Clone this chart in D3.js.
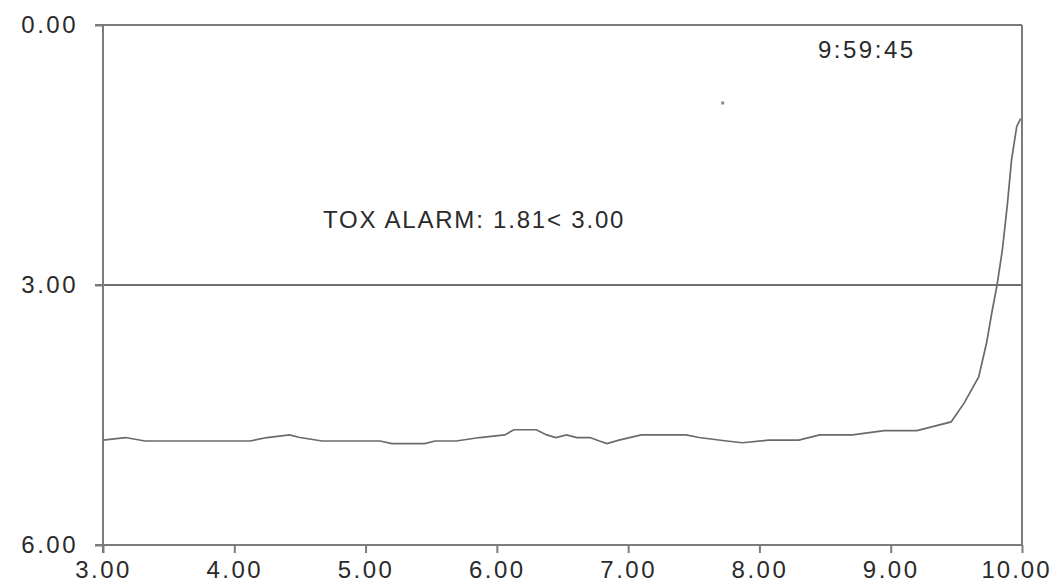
<!DOCTYPE html>
<html><head><meta charset="utf-8">
<script src="https://cdn.jsdelivr.net/npm/d3@7"></script>
<style>body{margin:0;background:#fff}svg{display:block}text{font-family:"Liberation Sans",Arial,sans-serif;fill:#2a2a2a;letter-spacing:2.5px}</style>
</head><body><svg width="1062" height="586"></svg>
<script>
const xTicks = [3, 4, 5, 6, 7, 8, 9, 10];
const yTicks = [0, 3, 6];
const threshold = 3.0;
const timeLabel = "9:59:45";
const alarmLabel = "TOX ALARM: 1.81< 3.00";
const xs = [3.00,3.17,3.32,4.12,4.25,4.42,4.50,4.67,5.11,5.20,5.45,5.53,5.69,5.87,6.06,6.13,6.30,6.38,6.45,6.53,6.61,6.71,6.78,6.84,6.93,7.10,7.44,7.54,7.75,7.87,8.07,8.30,8.46,8.71,8.95,9.20,9.46,9.56,9.67,9.73,9.77,9.81,9.85,9.89,9.92,9.96,9.99];
const ys = [4.79,4.76,4.80,4.80,4.76,4.73,4.76,4.80,4.80,4.83,4.83,4.80,4.80,4.76,4.73,4.67,4.67,4.73,4.76,4.73,4.76,4.76,4.80,4.83,4.79,4.73,4.73,4.76,4.80,4.82,4.79,4.79,4.73,4.73,4.68,4.68,4.58,4.36,4.06,3.67,3.32,3.00,2.60,2.05,1.56,1.17,1.08];
const strayX = [7.72], strayY = [0.90];

const svg = d3.select("svg");
const x = d3.scaleLinear().domain([3, 10]).range([103, 1022]);
const y = d3.scaleLinear().domain([0, 6]).range([25, 545]);
const axisColor = "#7c7c7c";

svg.append("line").attr("x1", x(3) - 8).attr("x2", x(10)).attr("y1", y(0)).attr("y2", y(0)).attr("stroke", axisColor).attr("stroke-width", 2);
svg.append("line").attr("x1", x(10)).attr("x2", x(10)).attr("y1", y(0)).attr("y2", y(6)).attr("stroke", axisColor).attr("stroke-width", 2);
svg.append("line").attr("x1", x(3) - 8).attr("x2", x(10)).attr("y1", y(threshold)).attr("y2", y(threshold)).attr("stroke", "#6e6e6e").attr("stroke-width", 2);

const xAxis = svg.append("g").attr("transform", `translate(0,${y(6)})`)
  .call(d3.axisBottom(x).tickValues(xTicks).tickFormat(d3.format(".2f")).tickSize(8).tickPadding(8).tickSizeOuter(0));
const yAxis = svg.append("g").attr("transform", `translate(${x(3)},0)`)
  .call(d3.axisLeft(y).tickValues(yTicks).tickFormat(d3.format(".2f")).tickSize(8).tickPadding(17).tickSizeOuter(0));
[xAxis, yAxis].forEach(g => {
  g.select(".domain").attr("stroke", axisColor).attr("stroke-width", 2);
  g.selectAll(".tick line").attr("stroke", axisColor).attr("stroke-width", 2);
  g.selectAll(".tick text").attr("font-size", 24).attr("fill", "#2a2a2a").style("font-family", '"Liberation Sans",Arial,sans-serif');
});
xAxis.select(".domain").attr("d", `M${x(3)-8},0H${x(10)}`);
yAxis.select(".domain").attr("d", `M0,${y(0)}V${y(6)+8}`);
xAxis.selectAll(".tick").filter(d => d === 10).select("text").attr("dx", -6).style("letter-spacing", "2px");

const pts = xs.map((v, i) => [v, ys[i]]);
svg.append("path").datum(pts)
  .attr("d", d3.line().x(d => x(d[0])).y(d => y(d[1])))
  .attr("fill", "none").attr("stroke", "#6a6a6a").attr("stroke-width", 1.7);

svg.selectAll("rect.stray").data(strayX).enter().append("rect").attr("class", "stray")
  .attr("x", (d) => x(d) - 1.5).attr("y", (d, i) => y(strayY[i]) - 1.5).attr("width", 3).attr("height", 3).attr("fill", "#888");

svg.append("text").attr("x", 323).attr("y", 228).attr("font-size", 24).style("letter-spacing", "1.8px").text(alarmLabel);
svg.append("text").attr("x", 818).attr("y", 58).attr("font-size", 24).text(timeLabel);
</script></body></html>
